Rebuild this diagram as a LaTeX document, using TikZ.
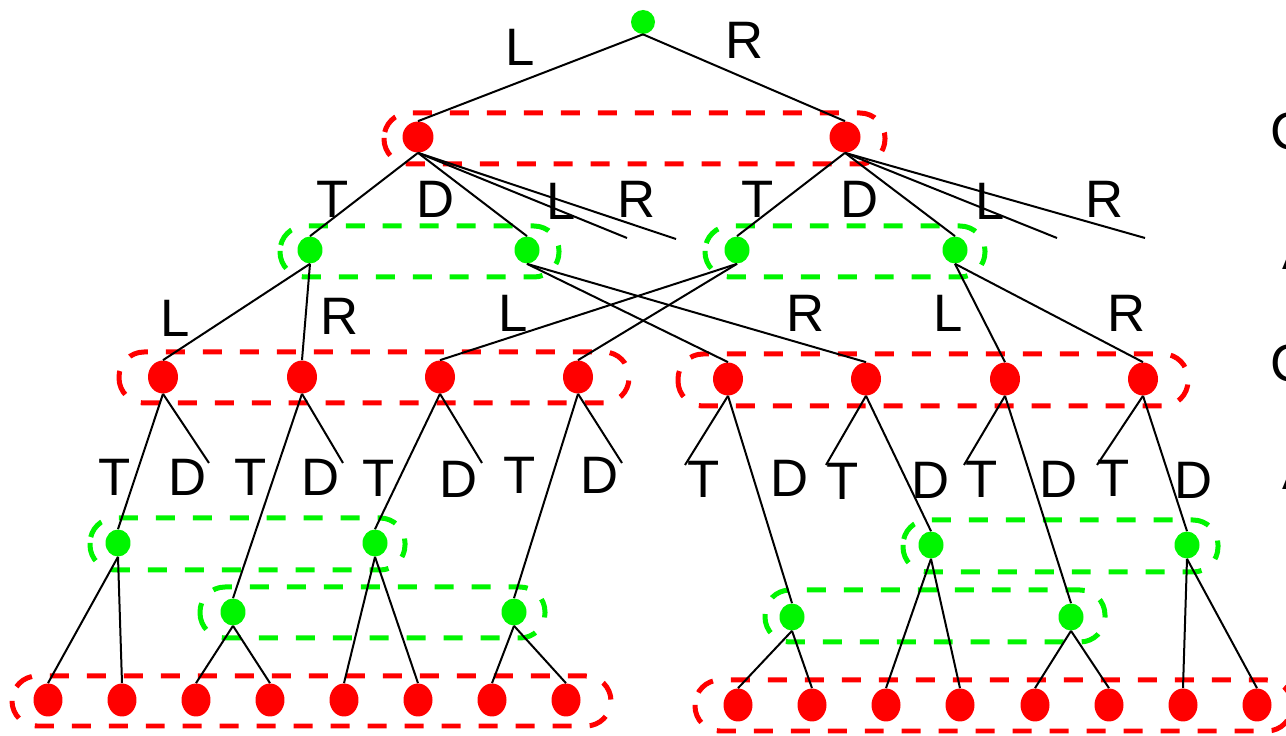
\documentclass[tikz,border=0pt]{standalone}
\usepackage{fontspec}
\setmainfont{Liberation Sans}
\usetikzlibrary{shapes.geometric}
\definecolor{nodered}{RGB}{255,0,0}
\definecolor{nodegreen}{RGB}{0,245,0}
\begin{document}
\begin{tikzpicture}[x=0.02cm,y=-0.02cm,
  edge/.style={line width=0.04cm,black},
  rootn/.style={circle,fill=nodegreen,inner sep=0,minimum size=0.48cm},
  topred/.style={circle,fill=nodered,inner sep=0,minimum size=0.62cm},
  gn/.style={ellipse,fill=nodegreen,inner sep=0,minimum width=0.5cm,minimum height=0.54cm},
  rn/.style={ellipse,fill=nodered,inner sep=0,minimum width=0.6cm,minimum height=0.66cm},
  leaf/.style={ellipse,fill=nodered,inner sep=0,minimum width=0.58cm,minimum height=0.66cm},
  setbox/.style={line width=0.1cm,dash pattern=on 0.38cm off 0.36cm,rounded corners=0.5cm},
  redset/.style={setbox,draw=nodered},
  greenset/.style={setbox,draw=nodegreen},
  lab/.style={font=\fontsize{30}{36}\selectfont,inner sep=0}]
\useasboundingbox (0,0) rectangle (1286,736);

% information sets
\draw[redset] (384,113) rectangle (885,164);
\draw[greenset] (280,226) rectangle (559,277);
\draw[greenset] (705,226) rectangle (985,277);
\draw[redset] (119,352) rectangle (629,403);
\draw[redset] (678,354) rectangle (1188,406);
\draw[greenset] (90,518) rectangle (405,570);
\draw[greenset] (200,587) rectangle (545,638);
\draw[greenset] (765,590) rectangle (1105,642);
\draw[greenset] (903,520) rectangle (1218,572);
\draw[redset] (12,676) rectangle (611,726);
\draw[redset] (695,680) rectangle (1292,731);

% nodes
\node[rootn] (root) at (643,22) {};
\node[topred] (ra) at (418,137) {};
\node[topred] (rb) at (845,137) {};
\node[gn] (ga) at (310,250) {};
\node[gn] (gb) at (527,250) {};
\node[gn] (gc) at (737,250) {};
\node[gn] (gd) at (955,250) {};
\foreach \n/\x in {a/163,b/302,c/440,d/578}{\node[rn] (s\n) at (\x,377) {};}
\foreach \n/\x in {e/728,f/866,g/1005,h/1143}{\node[rn] (s\n) at (\x,379) {};}
\node[gn] (ha) at (118,543) {};
\node[gn] (hb) at (233,612) {};
\node[gn] (hc) at (375,543) {};
\node[gn] (hd) at (514,612) {};
\node[gn] (he) at (792,617) {};
\node[gn] (hf) at (931,545) {};
\node[gn] (hg) at (1071,617) {};
\node[gn] (hh) at (1187,545) {};
\foreach \i/\x in {1/48,2/122,3/196,4/270,5/344,6/418,7/492,8/566}{\node[leaf] (l\i) at (\x,700) {};}
\foreach \i/\x in {9/738,10/812,11/886,12/960,13/1035,14/1109,15/1183,16/1257}{\node[leaf] (l\i) at (\x,705) {};}

% loose branch ends
\coordinate (fa1) at (627,238);
\coordinate (fa2) at (676,239);
\coordinate (fb1) at (1057,238);
\coordinate (fb2) at (1145,238);
\coordinate (ta) at (209,463);
\coordinate (tb) at (343,463);
\coordinate (tc) at (482,463);
\coordinate (td) at (622,463);
\coordinate (te) at (685,465);
\coordinate (tf) at (826,465);
\coordinate (tg) at (964,465);
\coordinate (th) at (1097,465);

% branches
\draw[edge] (root.south) -- (ra.north);
\draw[edge] (root.south) -- (rb.north);
\draw[edge] (ra.south) -- (ga.north);
\draw[edge] (ra.south) -- (gb.north);
\draw[edge] (ra.south) -- (fa1);
\draw[edge] (ra.south) -- (fa2);
\draw[edge] (rb.south) -- (gc.north);
\draw[edge] (rb.south) -- (gd.north);
\draw[edge] (rb.south) -- (fb1);
\draw[edge] (rb.south) -- (fb2);
\draw[edge] (ga.south) -- (sa.north);
\draw[edge] (ga.south) -- (sb.north);
\draw[edge] (gb.south) -- (se.north);
\draw[edge] (gb.south) -- (sf.north);
\draw[edge] (gc.south) -- (sc.north);
\draw[edge] (gc.south) -- (sd.north);
\draw[edge] (gd.south) -- (sg.north);
\draw[edge] (gd.south) -- (sh.north);
\foreach \s in {a,b,c,d,e,f,g,h}{
  \draw[edge] (s\s.south) -- (h\s.north);
  \draw[edge] (s\s.south) -- (t\s);
}
\foreach \h/\i/\j in {a/1/2,b/3/4,c/5/6,d/7/8,e/9/10,f/11/12,g/13/14,h/15/16}{
  \draw[edge] (h\h.south) -- (l\i.north);
  \draw[edge] (h\h.south) -- (l\j.north);
}

% action labels
\node[lab] (k0) at (520,47) {L};
\node[lab] (k1) at (745,40) {R};
\node[lab] (k2) at (333,199) {T};
\node[lab] (k3) at (436,199) {D};
\node[lab] (k4) at (561,201) {L};
\node[lab] (k5) at (637,199) {R};
\node[lab] (k6) at (758,199) {T};
\node[lab] (k7) at (860,199) {D};
\node[lab] (k8) at (990,201) {L};
\node[lab] (k9) at (1105,199) {R};
\node[lab] (m0) at (175,318) {L};
\node[lab] (m1) at (340,316) {R};
\node[lab] (m2) at (513,313) {L};
\node[lab] (m3) at (806,313) {R};
\node[lab] (m4) at (948,313) {L};
\node[lab] (m5) at (1127,313) {R};
\node[lab] (n0) at (115,477) {T};
\node[lab] (n1) at (188,477) {D};
\node[lab] (n2) at (251,477) {T};
\node[lab] (n3) at (321,477) {D};
\node[lab] (n4) at (379,478) {T};
\node[lab] (n5) at (459,479) {D};
\node[lab] (n6) at (520,475) {T};
\node[lab] (n7) at (600,475) {D};
\node[lab] (n8) at (704,479) {T};
\node[lab] (n9) at (790,478) {D};
\node[lab] (o0) at (843,481) {T};
\node[lab] (o1) at (931,480) {D};
\node[lab] (o2) at (982,479) {T};
\node[lab] (o3) at (1059,479) {D};
\node[lab] (o4) at (1114,478) {T};
\node[lab] (o5) at (1194,480) {D};
% player column at the right edge
\node[lab,anchor=base west] (p0) at (1270.5,150) {C};
\node[lab,anchor=base west] (p1) at (1282,270) {A};
\node[lab,anchor=base west] (p2) at (1270.5,382) {C};
\node[lab,anchor=base west] (p3) at (1282,490) {A};
\end{tikzpicture}
\end{document}
